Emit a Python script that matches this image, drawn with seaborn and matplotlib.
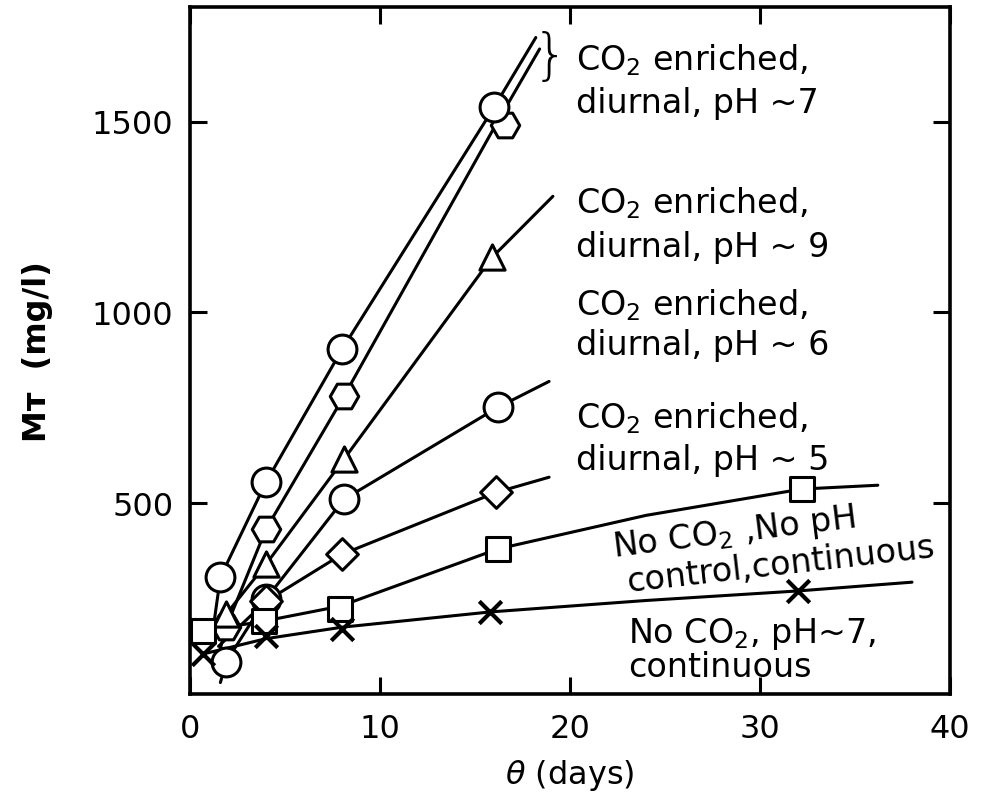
import matplotlib
matplotlib.use("Agg")
import matplotlib.pyplot as plt
import seaborn as sns

# ---------------- data ----------------
# measured points
s1_x = [1.6, 4.0, 8.0, 16.0]          # CO2 enriched, diurnal, pH~7 (circles)
s1_y = [306, 555, 903, 1537]
s2_x = [1.9, 4.0, 8.1, 16.6]          # CO2 enriched, diurnal, pH~7 (hexagons)
s2_y = [175, 432, 780, 1492]
s3_x = [1.9, 4.0, 8.1, 15.9]          # pH~9 (triangles)
s3_y = [209, 340, 615, 1144]
s4_x = [1.9, 4.0, 8.1, 16.2]          # pH~6 (circles)
s4_y = [84, 249, 510, 751]
s5_x = [4.0, 8.0, 16.1]               # pH~5 (diamonds)
s5_y = [243, 366, 528]
s6_x = [0.7, 3.9, 7.9, 16.2, 32.2]    # No CO2, no pH control (squares)
s6_y = [165, 191, 222, 380, 537]
s7_x = [0.7, 4.0, 8.0, 15.8, 32.0]    # No CO2, pH~7 (crosses)
s7_y = [105, 152, 170, 215, 270]

# hand-drawn fitted curves
c1_x = [1.3, 1.6, 4.0, 8.0, 16.0, 18.2]
c1_y = [200, 306, 555, 903, 1537, 1720]
c2_x = [1.6, 1.9, 4.0, 8.1, 16.1, 18.4]
c2_y = [120, 175, 432, 780, 1492, 1690]
c3_x = [1.5, 1.9, 4.0, 8.1, 15.9, 19.1]
c3_y = [150, 209, 340, 615, 1144, 1304]
c4_x = [1.6, 1.9, 4.0, 8.1, 16.2, 18.9]
c4_y = [30, 84, 249, 510, 751, 819]
c5_x = [1.5, 4.0, 8.0, 16.1, 18.9]
c5_y = [125, 243, 366, 528, 568]
c6_x = [0.7, 3.9, 7.9, 16.2, 24.0, 32.2, 36.2]
c6_y = [165, 191, 230, 380, 468, 537, 547]
c7_x = [0.7, 4.0, 8.0, 15.8, 24.0, 32.0, 38.0]
c7_y = [105, 145, 175, 215, 245, 270, 293]

x_ticks = [0, 10, 20, 30, 40]
y_ticks = [500, 1000, 1500]

# ---------------- style ----------------
sns.set_style("ticks")
plt.rcParams["font.family"] = ["DejaVu Sans"]
plt.rcParams["mathtext.default"] = "regular"
for k in ["text.color", "axes.labelcolor", "xtick.color", "ytick.color",
          "axes.edgecolor"]:
    plt.rcParams[k] = "black"

fig = plt.figure(figsize=(9.83, 8.03), dpi=100)
ax = fig.add_axes([190 / 983, 1 - 695 / 803, 760 / 983, 687 / 803])

LW = 2.2
curves = [(c1_x, c1_y), (c2_x, c2_y), (c3_x, c3_y), (c4_x, c4_y),
          (c5_x, c5_y), (c6_x, c6_y), (c7_x, c7_y)]
for cx, cy in curves:
    sns.lineplot(x=cx, y=cy, ax=ax, color="black", lw=LW, sort=False,
                 estimator=None, zorder=2)

mk = dict(facecolor="white", edgecolor="black", linewidth=2.2, zorder=4, ax=ax,
          legend=False)
sns.scatterplot(x=s2_x, y=s2_y, marker="H", s=420, **mk)
sns.scatterplot(x=s1_x, y=s1_y, marker="o", s=430, **mk)
sns.scatterplot(x=s3_x, y=s3_y, marker="^", s=330, **mk)
sns.scatterplot(x=s4_x, y=s4_y, marker="o", s=430, **mk)
sns.scatterplot(x=s5_x, y=s5_y, marker="D", s=260, **mk)
sns.scatterplot(x=s6_x, y=s6_y, marker="s", s=300, **mk)
sns.scatterplot(x=s7_x, y=s7_y, marker="x", s=260, color="black",
                linewidth=3, zorder=4, ax=ax, legend=False)

ax.set_xlim(0, 40)
ax.set_ylim(0, 1800)
ax.set_xticks(x_ticks)
ax.set_yticks(y_ticks)
ax.tick_params(direction="in", length=12, width=2.2, labelsize=23,
               top=True, right=True, colors="black")
ax.tick_params(axis="x", pad=14)
ax.tick_params(axis="y", pad=12)
for sp in ax.spines.values():
    sp.set_linewidth(2.6)
    sp.set_color("black")

ax.set_xlabel(r"$\it{\theta}$ (days)", fontsize=23, va="center")
ax.set_ylabel("Mᴛ  (mg/l)", fontsize=23, fontweight="bold", va="center")
ax.xaxis.set_label_coords(0.5, -0.117)
ax.yaxis.set_label_coords(-0.20, 0.5)

FS = 24
tx = 20.3
labels = [
    (1636, "CO$_2$ enriched,"), (1526, "diurnal, pH ~7"),
    (1262, "CO$_2$ enriched,"), (1147, "diurnal, pH ~ 9"),
    (995, "CO$_2$ enriched,"), (890, "diurnal, pH ~ 6"),
    (699, "CO$_2$ enriched,"), (589, "diurnal, pH ~ 5"),
]
for yy, t in labels:
    ax.text(tx, yy, t, fontsize=FS, ha="left", va="baseline")

ax.text(18.95, 1668, "}", fontsize=40, ha="center", va="center",
        fontweight="light")

ax.text(22.3, 361, "No CO$_2$ ,No pH", fontsize=FS, ha="left", va="baseline",
        rotation=7, rotation_mode="anchor")
ax.text(23.05, 270, "control,continuous", fontsize=FS, ha="left",
        va="baseline", rotation=6.5, rotation_mode="anchor")
ax.text(23.05, 136, "No CO$_2$, pH~7,", fontsize=FS, ha="left", va="baseline")
ax.text(23.05, 47, "continuous", fontsize=FS, ha="left", va="baseline")

fig.savefig("out.png", dpi=100)
